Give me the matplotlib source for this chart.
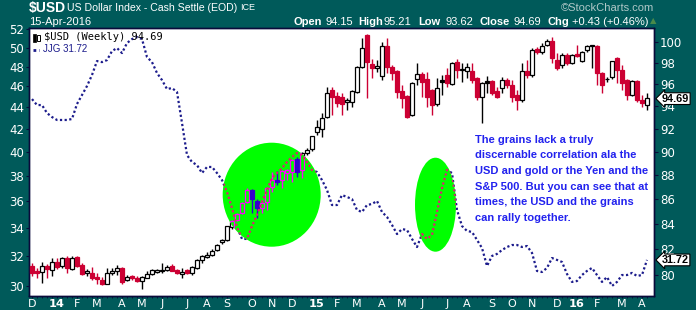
import numpy as np
import pandas as pd
import matplotlib
matplotlib.use("Agg")
from matplotlib import pyplot as plt
from matplotlib.patches import Ellipse, Rectangle
from matplotlib.ticker import FixedLocator, NullLocator, FixedFormatter
import matplotlib.transforms as mtrans

# weekly $USD candles (Friday closes), 6-Dec-2013 .. 15-Apr-2016
weeks = pd.date_range("2013-12-06", periods=124, freq="W-FRI")

usd_open = [80.66, 80.22, 80.22, 80.66, 80.35, 80.95, 80.66, 81.27, 80.41, 81.34,
            80.74, 80.09, 80.14, 79.83, 79.57, 79.32, 80.14, 80.27, 80.48, 79.57,
            79.88, 79.75, 79.50, 79.75, 80.02, 80.22, 80.30, 80.35, 80.66, 80.35,
            80.02, 80.30, 80.09, 80.48, 81.13, 81.39, 81.52, 81.91, 82.52, 82.71,
            83.76, 84.30, 84.85, 85.79, 86.77, 85.85, 85.26, 85.79, 87.04, 87.60,
            87.60, 88.16, 88.30, 89.35, 88.44, 89.86, 90.21, 91.69, 91.96, 93.02,
            95.48, 94.87, 94.78, 94.40, 94.42, 95.33, 97.63, 100.64, 97.86, 97.55,
            96.77, 99.59, 97.63, 97.17, 95.33, 94.87, 93.23, 96.47, 96.96, 96.47,
            95.48, 94.21, 96.40, 96.86, 96.00, 98.05, 97.36, 97.24, 97.17, 96.56,
            94.87, 96.30, 96.24, 95.33, 95.69, 96.33, 95.93, 95.03, 94.57, 97.17,
            96.86, 99.28, 99.00, 99.69, 100.00, 98.26, 97.79, 98.74, 97.95, 98.80,
            98.20, 99.25, 99.62, 99.59, 97.02, 96.50, 96.65, 98.43, 97.33, 96.40,
            95.03, 96.24, 94.57, 94.15]
usd_high = [80.90, 80.51, 81.00, 80.82, 81.27, 81.27, 81.39, 81.44, 81.44, 81.44,
            80.90, 80.41, 80.56, 80.14, 79.83, 80.48, 80.48, 80.74, 80.59, 79.96,
            79.96, 79.88, 79.88, 80.30, 80.43, 80.45, 80.92, 80.74, 80.80, 80.45,
            80.48, 80.40, 80.70, 81.20, 81.50, 81.75, 82.00, 82.39, 82.80, 83.85,
            84.30, 84.90, 85.80, 86.90, 86.85, 86.05, 85.94, 87.00, 88.30, 88.38,
            88.45, 88.50, 89.40, 89.57, 90.00, 90.30, 91.40, 92.78, 93.38, 95.78,
            95.78, 95.33, 95.18, 94.72, 95.45, 97.70, 100.32, 100.70, 98.40, 98.26,
            100.00, 100.32, 97.80, 97.30, 95.93, 95.00, 96.20, 97.95, 97.10, 97.17,
            95.60, 96.56, 96.86, 97.49, 98.05, 98.40, 97.95, 97.95, 97.95, 96.70,
            96.24, 96.75, 96.40, 95.78, 96.70, 96.56, 96.40, 95.48, 97.95, 98.26,
            99.37, 99.50, 99.85, 100.30, 100.48, 98.90, 98.90, 98.90, 98.85, 99.70,
            99.10, 99.70, 99.65, 99.65, 97.10, 96.70, 98.20, 98.58, 97.79, 96.50,
            96.40, 96.40, 95.03, 95.21]
usd_low = [79.88, 79.73, 79.36, 79.73, 79.88, 80.45, 80.48, 80.09, 80.35, 80.59,
           79.96, 79.88, 79.57, 79.32, 79.19, 79.26, 79.96, 79.96, 79.32, 79.50,
           79.61, 79.42, 78.88, 79.71, 79.96, 80.15, 80.14, 80.30, 80.25, 80.05,
           79.71, 80.05, 80.00, 80.40, 80.92, 81.30, 81.45, 81.83, 82.40, 82.65,
           83.60, 84.20, 84.75, 85.70, 84.87, 84.44, 84.85, 85.12, 86.62, 87.18,
           86.91, 87.60, 87.46, 87.87, 87.74, 89.70, 90.10, 91.46, 91.31, 92.96,
           93.23, 93.96, 93.23, 93.67, 93.96, 95.20, 97.49, 94.73, 96.56, 97.17,
           96.40, 97.02, 96.40, 94.73, 93.82, 92.96, 93.10, 95.93, 94.87, 93.96,
           93.23, 94.00, 95.03, 95.78, 95.90, 96.56, 96.24, 96.56, 96.09, 94.57,
           92.49, 95.18, 95.03, 94.73, 95.18, 95.64, 94.42, 93.67, 94.40, 96.56,
           96.70, 98.85, 98.85, 99.60, 97.95, 97.33, 97.49, 97.79, 97.85, 98.58,
           98.10, 99.00, 97.49, 95.93, 95.18, 96.20, 96.50, 96.09, 95.48, 94.57,
           94.90, 94.42, 93.96, 93.62]
usd_close = [80.12, 80.09, 80.61, 80.41, 80.95, 80.61, 81.27, 80.48, 81.27, 80.66,
             80.04, 80.22, 79.71, 79.65, 79.32, 80.14, 80.22, 80.48, 79.44, 79.83,
             79.71, 79.50, 79.83, 80.02, 80.30, 80.32, 80.34, 80.56, 80.30, 80.14,
             80.17, 80.14, 80.56, 81.08, 81.39, 81.52, 81.78, 82.31, 82.71, 83.76,
             84.16, 84.79, 85.66, 86.77, 85.99, 85.26, 85.66, 86.91, 87.60, 87.46,
             88.30, 88.44, 89.29, 88.30, 89.86, 90.15, 91.31, 92.13, 92.93, 95.18,
             94.87, 94.27, 94.22, 94.51, 95.33, 97.58, 99.37, 98.10, 97.49, 97.70,
             99.59, 97.63, 97.02, 95.33, 94.73, 93.08, 96.09, 96.96, 96.24, 94.87,
             94.12, 95.64, 96.19, 96.15, 97.95, 97.33, 97.42, 97.54, 96.40, 94.87,
             96.09, 96.15, 95.18, 94.87, 96.33, 95.93, 94.87, 94.57, 97.17, 96.86,
             99.20, 99.00, 99.59, 100.00, 98.43, 97.49, 98.74, 97.95, 98.74, 98.64,
             99.00, 99.59, 99.60, 97.02, 95.93, 96.45, 98.10, 97.33, 96.09, 95.03,
             96.24, 94.57, 94.26, 94.69]

# JJG weekly close (left scale)
jjg = [44.77, 44.20, 44.20, 43.45, 43.08, 42.81, 42.81, 42.81, 42.90, 44.30,
       45.16, 46.04, 47.14, 48.57, 48.46, 48.67, 49.62, 49.94, 49.41, 50.48,
       50.91, 51.13, 50.91, 48.99, 48.46, 47.34, 46.63, 45.74, 45.84, 45.45,
       42.53, 39.71, 39.12, 38.87, 38.21, 38.71, 38.71, 38.21, 37.64, 36.69,
       35.46, 34.04, 33.18, 33.18, 34.11, 34.93, 35.91, 36.85, 37.81, 38.21,
       38.62, 39.12, 39.54, 39.88, 39.71, 39.12, 38.46, 38.29, 37.64, 36.85,
       35.68, 35.68, 36.45, 36.30, 36.14, 35.30, 35.15, 35.68, 35.76, 35.99,
       35.15, 34.78, 34.19, 33.53, 33.89, 33.82, 33.18, 32.61, 33.53, 33.18,
       33.46, 35.15, 37.00, 38.46, 38.21, 35.30, 34.11, 33.75, 33.68, 33.11,
       32.54, 31.31, 31.99, 32.13, 32.40, 32.61, 32.75, 32.75, 32.61, 32.68,
       32.20, 30.98, 30.91, 31.18, 31.85, 31.72, 31.58, 30.78, 30.26, 30.32,
       30.71, 30.98, 31.18, 30.71, 30.26, 30.58, 30.00, 30.26, 30.71, 30.71,
       30.85, 30.65, 30.71, 31.72]

left_ticks = list(range(30, 53, 2))
right_ticks = list(range(80, 101, 2))

note = ("The grains lack a truly\n"
        "discernable correlation ala the\n"
        "USD and gold or the Yen and the\n"
        "S&P 500. But you can see that at\n"
        "times, the USD and the grains\n"
        "can rally together.")

TEAL = "#005a5a"
RED = "#cc0033"
NAVY = "#1c1c8c"
W, H = 696, 310


def xor(c):
    # the annotation circles were painted in xor mode with magenta
    r, g, b = matplotlib.colors.to_rgb(c)
    return (1 - r, g, 1 - b)


fig = plt.figure(figsize=(W / 100, H / 100), dpi=100)
fig.patch.set_facecolor(TEAL)
ax = fig.add_axes([29.5 / W, 1 - 295.7 / H, 625 / W, 267.4 / H])
ax2 = ax.twinx()
ax.set_facecolor("white")

x = np.arange(len(weeks))
o = np.array(usd_open); h = np.array(usd_high)
l = np.array(usd_low); c = np.array(usd_close)
prev = np.r_[o[0], c[:-1]]
col = np.where(c < prev, RED, "black")
face = np.where(c < o, col, "white")


def candles(axis, edge, fill, clip=None, z=3):
    lc = axis.vlines(x, l, h, colors=list(edge), lw=1.0, zorder=z)
    bars = axis.bar(x, np.abs(c - o) + 0.02, bottom=np.minimum(o, c), width=0.7,
                    color=list(fill), edgecolor=list(edge), lw=0.9, zorder=z + 0.1)
    if clip is not None:
        lc.set_clip_path(clip)
        for p in bars:
            p.set_clip_path(clip)


# JJG dotted line (left axis)
ax.plot(x, jjg, color=NAVY, lw=1.6, ls=(0, (1, 1.1)), zorder=2)
candles(ax2, col, face)

# green circles
circles = [Ellipse((0.3875, 0.3777), 0.1568, 0.389, transform=ax2.transAxes),
           Ellipse((0.6496, 0.3403), 0.0656, 0.3515, transform=ax2.transAxes)]
for e in circles:
    e.set_facecolor("#00ff00"); e.set_edgecolor("none"); e.set_zorder(5)
    ax2.add_patch(e)
for e in circles:
    candles(ax2, [xor(k) for k in col], [xor(k) for k in face], clip=e, z=6)
    ln, = ax2.plot(x, jjg, color=xor(NAVY), lw=1.6, ls=(0, (1, 1.1)), zorder=7,
                   transform=ax.transData)
    ln.set_clip_path(e)

# axes, scales, ticks
for a in (ax, ax2):
    a.set_yscale("log")
    a.yaxis.set_minor_locator(NullLocator())
    for s in a.spines.values():
        s.set_color("#0a0a3a"); s.set_linewidth(1.0)
ax.set_ylim(29.38, 52.1)
ax2.set_ylim(78.40, 101.29)
ax.set_xlim(-0.5, 124.5)
ax.yaxis.set_major_locator(FixedLocator(left_ticks))
ax.yaxis.set_major_formatter(FixedFormatter([str(t) for t in left_ticks]))
ax2.yaxis.set_major_locator(FixedLocator(right_ticks))
ax2.yaxis.set_major_formatter(FixedFormatter([str(t) for t in right_ticks]))
ax.tick_params(axis="y", colors="white", labelsize=8.5, length=2, pad=2)
ax2.tick_params(axis="y", colors="white", labelsize=8.5, length=3, pad=1)
ax.tick_params(axis="y", color="#0a0a3a")
ax2.tick_params(axis="y", color="#0a0a3a")

# month ticks: bars are stamped by their Monday
mondays = weeks - pd.Timedelta(days=4)
pos, labs = [], []
for i, d in enumerate(mondays):
    if i == 0 or d.month != mondays[i - 1].month:
        pos.append(i)
        labs.append(d.strftime("%y") if d.month == 1 else d.strftime("%b")[0])
ax.set_xticks(pos)
ax.set_xticklabels(labs)
ax.set_xticks(x, minor=True)
ax.tick_params(axis="x", colors="white", labelsize=8, length=1.5, pad=0.8, color="#0a0a3a")
ax.tick_params(axis="x", which="minor", length=1.5, color="#0a0a3a")
for t in ax.get_xticklabels():
    if t.get_text().isdigit():
        t.set_fontweight("bold"); t.set_fontsize(8.2)

# legend
ax.text(0.024, 0.985, "$USD (Weekly) 94.69", transform=ax.transAxes, fontsize=7.5,
        family="DejaVu Sans Mono", color="black", va="top", ha="left", zorder=9)
ax.add_patch(Rectangle((0.005, 0.948), 0.005, 0.03, transform=ax.transAxes,
                       fc="black", ec="black", lw=0.5, zorder=9))
ax.add_patch(Rectangle((0.012, 0.951), 0.005, 0.025, transform=ax.transAxes,
                       fc="white", ec="black", lw=0.7, zorder=9))
ax.text(0.022, 0.942, "JJG 31.72", transform=ax.transAxes, fontsize=7,
        family="Liberation Sans", color=NAVY, va="top", ha="left", zorder=9)
ax.plot([0.006, 0.016], [0.918, 0.918], transform=ax.transAxes, color=NAVY,
        lw=2, ls=(0, (1, 1)), zorder=9)

# annotation
ax2.text(0.713, 0.602, note, transform=ax2.transAxes, fontsize=8, fontweight="bold",
         family="Liberation Sans", color="#2222ee", va="top", ha="left",
         linespacing=1.7, zorder=9)

# last-value tags
tag = dict(boxstyle="larrow,pad=0.08", fc="white", ec="black", lw=0.8)
ax2.text(1.012, usd_close[-1], "%.2f" % usd_close[-1], fontsize=7.8, fontweight="bold",
         family="Liberation Sans", va="center", ha="left", bbox=tag, clip_on=False,
         transform=mtrans.blended_transform_factory(ax2.transAxes, ax2.transData), zorder=10)
ax2.text(1.012, jjg[-1], "%.2f" % jjg[-1], fontsize=7.8, fontweight="bold",
         family="Liberation Sans", va="center", ha="left", bbox=tag, clip_on=False,
         transform=mtrans.blended_transform_factory(ax2.transAxes, ax.transData), zorder=10)

# header
def fx(p): return p / W
def fy(p): return 1 - p / H

fig.text(fx(29), fy(8), "$USD", color="white", fontsize=10, fontweight="bold",
         family="Liberation Sans", va="center")
fig.text(fx(67), fy(8), "US Dollar Index - Cash Settle (EOD)", color="white",
         fontsize=7.6, family="Liberation Sans", va="center")
fig.text(fx(240), fy(8), "ICE", color="white", fontsize=6.5, family="Liberation Sans",
         va="center")
fig.text(fx(29), fy(22), "15-Apr-2016", color="white", fontsize=8,
         family="Liberation Sans", va="center")
fig.text(fx(654), fy(8), "\u00a9StockCharts.com", color="#b0c8c8", fontsize=8,
         family="Liberation Sans", va="center", ha="right")
hdr = [("Open", 293, True), ("%.2f" % usd_open[-1], 325, False),
       ("High", 358, True), ("%.2f" % usd_high[-1], 383, False),
       ("Low", 418, True), ("%.2f" % usd_low[-1], 446, False),
       ("Close", 479, True), ("%.2f" % usd_close[-1], 514, False),
       ("Chg", 547, True), ("+0.43 (+0.46%)", 572, False)]
for s, px, b in hdr:
    fig.text(fx(px), fy(22), s, color="white", fontsize=8, family="Liberation Sans",
             fontweight="bold" if b else "normal", va="center")
fig.text(fx(650), fy(21), "\u25b2", color="#4a8a4a", fontsize=6, va="center",
         family="DejaVu Sans")

fig.savefig("out.png", dpi=100, facecolor=TEAL)
